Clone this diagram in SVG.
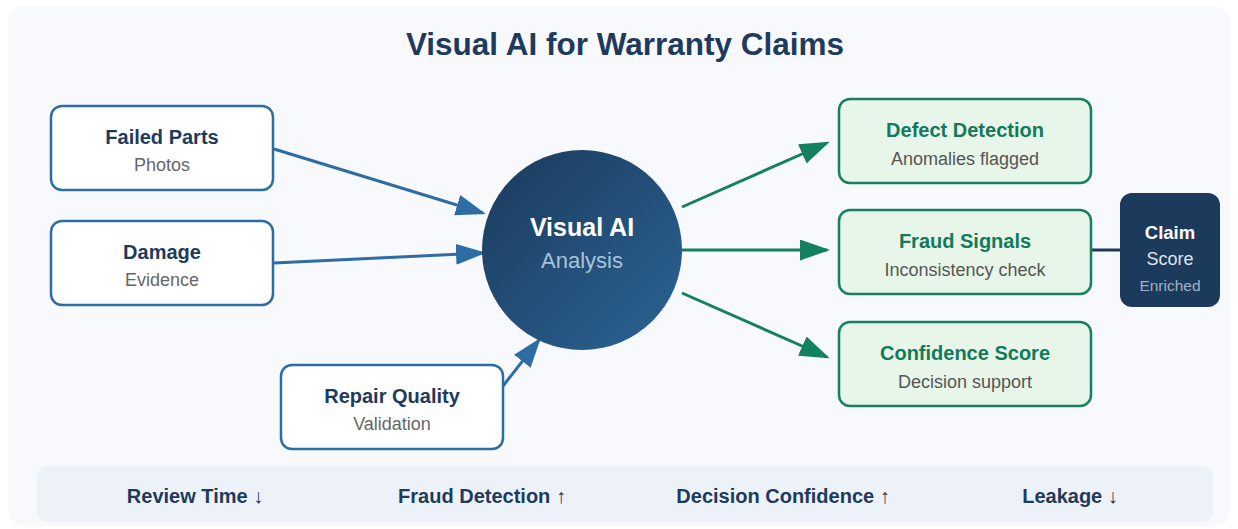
<svg xmlns="http://www.w3.org/2000/svg" width="1238" height="529" viewBox="0 0 1238 529">
  <style>
    text { font-family: "Liberation Sans", Arial, sans-serif; text-anchor: middle; }
    .title { font-size: 31.5px; font-weight: bold; fill: #1e3a5c; }
    .in-box { fill: #ffffff; stroke: #2e6da4; stroke-width: 2.5; }
    .out-box { fill: #e8f5e9; stroke: #16805f; stroke-width: 2.5; }
    .in-head { font-size: 20px; font-weight: bold; fill: #1e3a5c; }
    .out-head { font-size: 20px; font-weight: bold; fill: #137a5a; }
    .sub { font-size: 18px; fill: #666666; }
    .sub-dark { font-size: 18px; fill: #555555; }
    .blue-link { stroke: #2e6da4; stroke-width: 3; fill: none; }
    .green-link { stroke: #13805f; stroke-width: 3; fill: none; }
    .metric { font-size: 20px; font-weight: bold; fill: #1e3a5c; }
  </style>
  <defs>
    <linearGradient id="coreFill" x1="0" y1="0" x2="1" y2="1">
      <stop offset="0" stop-color="#1b3a5b"/>
      <stop offset="1" stop-color="#2b6495"/>
    </linearGradient>
    <marker id="arrowBlue" markerWidth="10" markerHeight="7" refX="9" refY="3.5" orient="auto">
      <path d="M0,0 L10,3.5 L0,7 z" fill="#2e6da4"/>
    </marker>
    <marker id="arrowGreen" markerWidth="10" markerHeight="7" refX="9" refY="3.5" orient="auto">
      <path d="M0,0 L10,3.5 L0,7 z" fill="#13805f"/>
    </marker>
  </defs>

  <!-- card -->
  <rect x="8" y="6" width="1222" height="520" rx="16" fill="#f7f9fd"/>
  <text class="title" x="625" y="55">Visual AI for Warranty Claims</text>

  <!-- connectors -->
  <g id="connectors">
    <line class="blue-link" x1="274" y1="149" x2="483" y2="213" marker-end="url(#arrowBlue)"/>
    <line class="blue-link" x1="274" y1="263" x2="483" y2="253" marker-end="url(#arrowBlue)"/>
    <line class="blue-link" x1="503" y1="386" x2="539" y2="340" marker-end="url(#arrowBlue)"/>
    <line class="green-link" x1="682" y1="207" x2="827" y2="143" marker-end="url(#arrowGreen)"/>
    <line class="green-link" x1="682" y1="250" x2="827" y2="250" marker-end="url(#arrowGreen)"/>
    <line class="green-link" x1="682" y1="293" x2="827" y2="357" marker-end="url(#arrowGreen)"/>
    <line x1="1092" y1="250" x2="1120" y2="250" stroke="#1c3a5c" stroke-width="3"/>
  </g>

  <!-- inputs -->
  <g id="failed-parts">
    <rect class="in-box" x="51" y="106" width="222" height="84" rx="11"/>
    <text class="in-head" x="162" y="144">Failed Parts</text>
    <text class="sub" x="162" y="171">Photos</text>
  </g>
  <g id="damage">
    <rect class="in-box" x="51" y="221" width="222" height="84" rx="11"/>
    <text class="in-head" x="162" y="259">Damage</text>
    <text class="sub" x="162" y="286">Evidence</text>
  </g>
  <g id="repair-quality">
    <rect class="in-box" x="281" y="365" width="222" height="84" rx="11"/>
    <text class="in-head" x="392" y="403">Repair Quality</text>
    <text class="sub" x="392" y="430">Validation</text>
  </g>

  <!-- core -->
  <g id="visual-ai">
    <circle cx="582" cy="250" r="100" fill="url(#coreFill)"/>
    <text x="582" y="236" font-size="25" font-weight="bold" fill="#ffffff">Visual AI</text>
    <text x="582" y="268" font-size="22" fill="#a9c3dc">Analysis</text>
  </g>

  <!-- outputs -->
  <g id="defect-detection">
    <rect class="out-box" x="839" y="99" width="252" height="84" rx="11"/>
    <text class="out-head" x="965" y="137">Defect Detection</text>
    <text class="sub-dark" x="965" y="165">Anomalies flagged</text>
  </g>
  <g id="fraud-signals">
    <rect class="out-box" x="839" y="210" width="252" height="84" rx="11"/>
    <text class="out-head" x="965" y="248">Fraud Signals</text>
    <text class="sub-dark" x="965" y="276">Inconsistency check</text>
  </g>
  <g id="confidence-score">
    <rect class="out-box" x="839" y="322" width="252" height="84" rx="11"/>
    <text class="out-head" x="965" y="360">Confidence Score</text>
    <text class="sub-dark" x="965" y="388">Decision support</text>
  </g>

  <!-- result -->
  <g id="claim-score">
    <rect x="1120" y="193" width="100" height="114" rx="12" fill="#1c3a5c"/>
    <text x="1170" y="239" font-size="18.5" font-weight="bold" fill="#ffffff">Claim</text>
    <text x="1170" y="265" font-size="18" fill="#dfe6ee">Score</text>
    <text x="1170" y="291" font-size="15.5" fill="#9fb2c5">Enriched</text>
  </g>

  <!-- impact strip -->
  <g id="metrics">
    <rect x="37" y="466" width="1176" height="56" rx="10" fill="#edf2f8"/>
    <text class="metric" x="195" y="503">Review Time ↓</text>
    <text class="metric" x="482" y="503">Fraud Detection ↑</text>
    <text class="metric" x="783" y="503">Decision Confidence ↑</text>
    <text class="metric" x="1070" y="503">Leakage ↓</text>
  </g>
</svg>
